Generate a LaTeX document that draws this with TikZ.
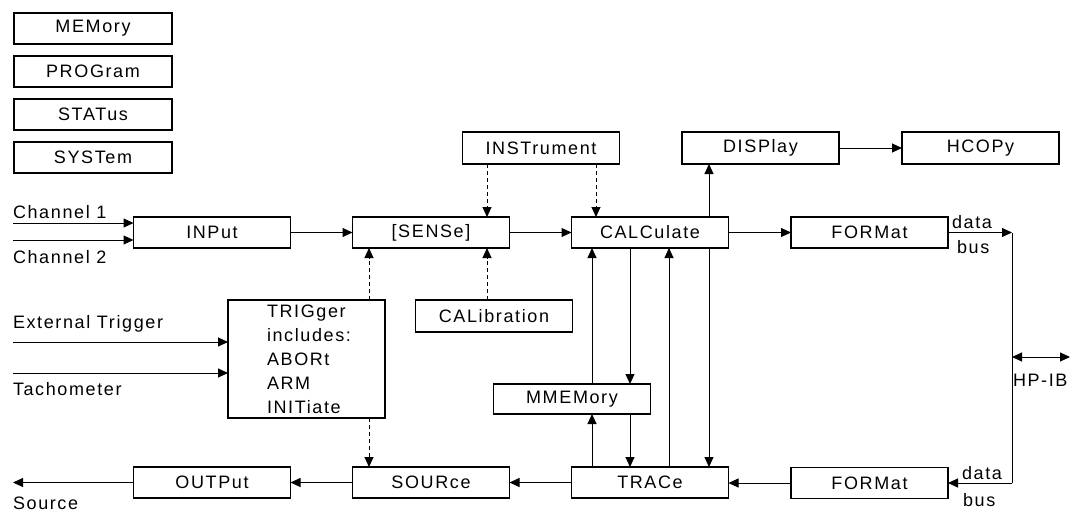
\documentclass[tikz,border=0pt]{standalone}
\usepackage{fontspec}
\setmainfont{Liberation Sans}[LetterSpace=9]
\usetikzlibrary{arrows.meta}
\begin{document}
\begin{tikzpicture}[x=1pt,y=-1pt,
  every node/.style={font=\fontsize{18}{24}\selectfont},
  box/.style={draw, line width=1.1pt, minimum width=157pt, minimum height=31pt, inner sep=0pt, outer sep=0pt},
  lbl/.style={inner sep=0pt, outer sep=0pt},
  con/.style={line width=1pt},
  arr/.style={con, -{Triangle[length=10pt,width=9pt]}},
  dbl/.style={con, {Triangle[length=10pt,width=9pt]}-{Triangle[length=10pt,width=9pt]}},
  dsh/.style={dash pattern=on 4pt off 3pt}]
\useasboundingbox (0,0) rectangle (1072,512);
% top-left boxes
\node[box, minimum width=158pt] (mem) at (93,28.5) {MEMory};
\node[box, minimum width=158pt] (prog) at (93,71.5) {PROGram};
\node[box, minimum width=158pt] (stat) at (93,114.5) {STATus};
\node[box, minimum width=158pt] (sys) at (93,157.5) {SYSTem};
% upper row
\node[box, minimum height=32pt] (inst) at (541,148) {INSTrument};
\node[box, minimum height=32pt] (disp) at (760.5,148) {DISPlay};
\node[box, minimum height=32pt] (hcopy) at (980.5,148) {HCOPy};
% main row
\node[box] (input) at (212,232.5) {INPut};
\node[box] (sense) at (431,232.5) {[SENSe]};
\node[box] (calc) at (650,232.5) {CALCulate};
\node[box] (fmt1) at (869.5,232.5) {FORMat};
% middle
\node[box, minimum height=32pt] (cal) at (494,316) {CALibration};
\node[box, minimum height=118pt, text width=79pt, align=left] (trig) at (306.5,359) {TRIGger\\includes:\\ABORt\\ARM\\INITiate};
\node[box, minimum height=30pt] (mmem) at (572,399) {MMEMory};
% bottom row
\node[box] (output) at (212,482.5) {OUTPut};
\node[box] (source) at (431,482.5) {SOURce};
\node[box] (trace) at (650,482.5) {TRACe};
\node[box] (fmt2) at (869.5,483) {FORMat};
% coordinates
\coordinate (ch1) at (13,223);
\coordinate (ch2) at (13,240);
\coordinate (ext) at (13,342);
\coordinate (tach) at (13,373);
\coordinate (src) at (13,482.5);
\coordinate (bus1) at (1012,232.5);
\coordinate (bus2) at (1012,483);
\coordinate (hp1) at (1012,357);
\coordinate (hp2) at (1070,357);
\coordinate (xa) at (369,0);
\coordinate (xb) at (487,0);
\coordinate (xc) at (596,0);
\coordinate (xd) at (592,0);
\coordinate (xe) at (630,0);
\coordinate (xf) at (669,0);
\coordinate (xg) at (709,0);
% inputs
\draw[arr] (ch1) -- (ch1 -| input.west);
\draw[arr] (ch2) -- (ch2 -| input.west);
\draw[arr] (ext) -- (ext -| trig.west);
\draw[arr] (tach) -- (tach -| trig.west);
\node[lbl, anchor=west] at (13,212) {Channel 1};
\node[lbl, anchor=west] at (13,257) {Channel 2};
\node[lbl, anchor=west] at (13,324) {External Trigger};
\node[lbl, anchor=west] at (13,389) {Tachometer};
\node[lbl, anchor=west] at (13,503) {Source};
% main flow
\draw[arr] (input) -- (sense);
\draw[arr] (sense) -- (calc);
\draw[arr] (calc) -- (fmt1);
\draw[arr] (disp) -- (hcopy);
\draw[arr] (fmt2.west) -- (trace.east |- fmt2.west);
\draw[arr] (trace) -- (source);
\draw[arr] (source) -- (output);
\draw[arr] (output.west) -- (src);
% dashed control
\draw[arr, dsh] (inst.south -| xb) -- (sense.north -| xb);
\draw[arr, dsh] (inst.south -| xc) -- (calc.north -| xc);
\draw[arr, dsh] (cal.north -| xb) -- (sense.south -| xb);
\draw[arr, dsh] (trig.north -| xa) -- (sense.south -| xa);
\draw[arr, dsh] (trig.south -| xa) -- (source.north -| xa);
% calculate links
\draw[arr] (calc.north -| xg) -- (disp.south -| xg);
\draw[arr] (mmem.north -| xd) -- (calc.south -| xd);
\draw[arr] (calc.south -| xe) -- (mmem.north -| xe);
\draw[arr] (trace.north -| xd) -- (mmem.south -| xd);
\draw[arr] (mmem.south -| xe) -- (trace.north -| xe);
\draw[arr] (trace.north -| xf) -- (calc.south -| xf);
\draw[arr] (calc.south -| xg) -- (trace.north -| xg);
% data bus
\draw[arr] (fmt1.east) -- (bus1);
\draw[con] (bus1) -- (bus2);
\draw[arr] (bus2) -- (fmt2.east);
\draw[dbl] (hp1) -- (hp2);
\node[lbl, anchor=west] at (952,222) {data};
\node[lbl, anchor=west] at (957,247) {bus};
\node[lbl, anchor=west] at (962,473) {data};
\node[lbl, anchor=west] at (963,500) {bus};
\node[lbl, anchor=west] at (1013,380) {HP-IB};
\end{tikzpicture}
\end{document}
